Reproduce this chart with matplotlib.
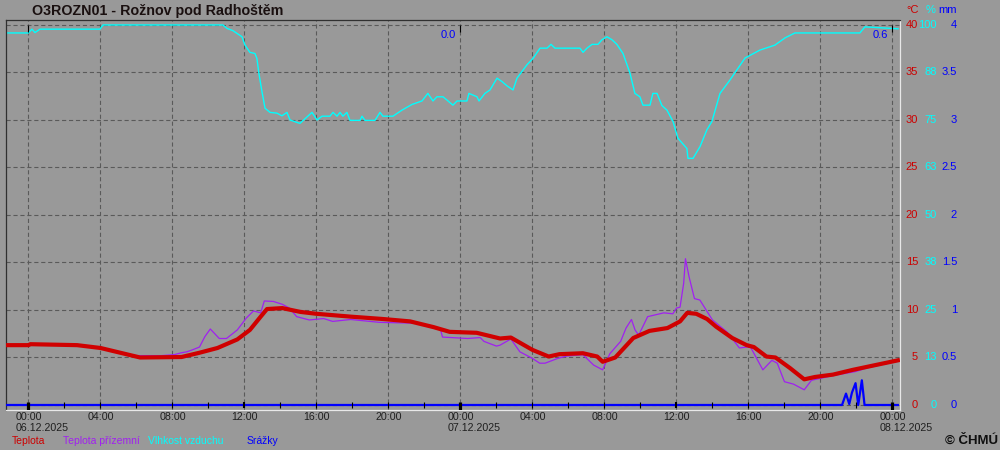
import matplotlib
matplotlib.use("Agg")
import matplotlib.pyplot as plt
import matplotlib.transforms as mtransforms

# hours counted from 06.12.2025 00:00
temp_h = [-1.25, 0.0, 0.1, 2.7, 4.0, 5.1, 6.2, 8.5, 9.5, 10.5, 11.6, 12.3, 12.9, 13.25,
          14.1, 15.1, 16.0, 17.9, 19.7, 21.2, 22.5, 23.4, 24.9, 26.2, 26.8, 28.0, 28.9,
          29.5, 30.8, 31.6, 31.9, 32.6, 33.6, 34.5, 35.5, 36.2, 36.6, 37.1, 37.7, 38.2,
          39.1, 39.9, 40.3, 41.0, 41.5, 42.3, 43.1, 43.7, 44.7, 45.8, 47.3, 48.3]
temp = [6.3, 6.3, 6.4, 6.3, 6.0, 5.5, 5.0, 5.05, 5.5, 6.0, 6.9, 7.9, 9.3, 10.1,
        10.2, 9.8, 9.6, 9.3, 9.05, 8.8, 8.2, 7.7, 7.6, 7.0, 7.1, 5.8, 5.1,
        5.35, 5.45, 5.1, 4.55, 5.0, 7.05, 7.8, 8.1, 8.8, 9.7, 9.6, 9.05, 8.25,
        7.05, 6.3, 6.1, 5.1, 5.0, 3.9, 2.7, 2.95, 3.2, 3.7, 4.3, 4.7]

ground_h = [5.25, 6.0, 7.4, 8.1, 8.5, 8.8, 9.1, 9.5, 9.8, 10.1, 10.6, 11.0, 11.6, 12.1,
            12.5, 12.9, 13.1, 13.6, 14.1, 14.5, 14.9, 15.6, 16.4, 16.9, 17.9, 19.5, 21.6,
            22.9, 23.0, 24.4, 25.1, 25.3, 26.0, 26.2, 26.8, 27.3, 28.0, 28.4, 28.7, 29.4,
            29.9, 30.8, 31.4, 31.9, 32.3, 32.9, 33.2, 33.5, 33.7, 33.9, 34.4, 35.3, 35.8,
            36.0, 36.2, 36.4, 36.5, 36.7, 37.0, 37.3, 38.0, 38.8, 39.5, 40.1, 40.8, 41.3,
            41.6, 42.0, 42.5, 43.1, 43.5, 44.7, 45.9, 46.6, 47.3, 48.3]
ground = [5.4, 5.2, 5.2, 5.3, 5.5, 5.6, 5.8, 6.1, 7.2, 8.0, 7.0, 7.0, 7.9, 9.15,
          9.9, 9.7, 10.95, 10.9, 10.6, 10.2, 9.3, 8.95, 9.1, 8.8, 9.0, 8.7, 8.6,
          7.9, 7.15, 7.0, 7.1, 6.7, 6.2, 6.3, 6.95, 5.6, 4.9, 4.4, 4.4, 4.9,
          5.15, 5.3, 4.2, 3.7, 5.4, 6.7, 8.1, 9.0, 7.9, 7.35, 9.3, 9.7, 9.6,
          10.2, 10.3, 12.8, 15.4, 13.5, 11.2, 11.05, 8.95, 7.7, 6.0, 6.15, 3.7, 4.7,
          4.4, 2.45, 2.2, 1.6, 2.6, 3.1, 3.5, 3.9, 4.2, 4.6]

hum_h = [-1.19, 0.0, 0.19, 0.36, 0.64, 3.97, 4.14, 10.8, 11.03, 11.36, 11.86, 12.03, 12.3,
         12.58, 12.69, 12.8, 12.97, 13.14, 13.42, 13.8, 14.08, 14.36, 14.53, 15.08, 15.75,
         16.03, 16.31, 16.75, 16.92, 17.14, 17.31, 17.47, 17.69, 17.86, 18.42, 18.53, 18.69,
         19.25, 19.53, 19.69, 20.25, 20.75, 21.31, 21.86, 22.19, 22.47, 22.69, 23.03, 23.31,
         23.58, 23.81, 24.36, 24.47, 24.92, 25.03, 25.36, 25.64, 26.03, 26.31, 26.58, 26.92,
         27.14, 27.69, 28.03, 28.42, 28.81, 29.03, 29.25, 30.64, 30.81, 31.03, 31.31, 31.64,
         31.86, 32.14, 32.42, 32.69, 33.03, 33.42, 33.69, 33.97, 34.14, 34.53, 34.69, 34.92,
         35.19, 35.47, 35.81, 36.08, 36.58, 36.64, 36.92, 37.31, 37.69, 37.97, 38.42, 38.97,
         39.81, 40.64, 41.47, 42.03, 42.58, 46.19, 46.47, 48.31]
hum = [97.9, 97.9, 98.9, 98.0, 98.9, 98.9, 100, 100, 99.1, 98.5, 96.9, 94.7, 92.8,
       92.5, 91.2, 87.3, 82.5, 78.1, 77.0, 76.8, 76.1, 77.0, 75.0, 74.1, 77.0,
       75.0, 76.0, 76.0, 77.0, 76.0, 77.0, 76.0, 77.0, 74.9, 74.9, 76.0, 74.9,
       74.9, 77.0, 76.0, 76.0, 77.6, 79.1, 80.0, 82.0, 80.0, 81.1, 81.1, 80.0,
       78.9, 80.0, 80.0, 82.0, 81.1, 80.0, 82.0, 82.9, 86.0, 85.1, 84.0, 82.9,
       86.0, 89.5, 91.2, 93.9, 93.9, 94.9, 93.9, 93.9, 92.8, 93.9, 94.9, 94.9,
       96.1, 96.9, 96.1, 94.9, 92.5, 87.3, 82.0, 81.1, 78.9, 78.9, 82.0, 82.0,
       78.8, 77.6, 74.6, 70.2, 67.5, 64.9, 64.9, 68.0, 72.4, 74.6, 82.0, 85.5,
       91.3, 93.4, 94.7, 96.6, 97.9, 97.9, 99.5, 99.0]

rain_h = [-1.2, 45.2, 45.42, 45.6, 45.75, 45.95, 46.1, 46.3, 46.45, 48.3]
rain = [0, 0, 0.12, 0.01, 0.13, 0.23, 0.0, 0.26, 0.0, 0]

day_sums = ["0.0", "0.6"]
day_ends = [24, 48]

xticks = list(range(0, 49, 4))
xlabels = ["00:00", "04:00", "08:00", "12:00", "16:00", "20:00"] * 2 + ["00:00"]
date_pos = [0, 24, 48]
date_labels = ["06.12.2025", "07.12.2025", "08.12.2025"]

t_ticks = list(range(0, 41, 5))
hum_labels = ["0", "13", "25", "38", "50", "63", "75", "88", "100"]
mm_labels = ["0", "0.5", "1", "1.5", "2", "2.5", "3", "3.5", "4"]

legend_names = ["Teplota", "Teplota přízemní", "Vlhkost vzduchu", "Srážky"]

RED = "#d00000"
PURPLE = "#a020f0"
CYAN = "#00ffff"
BLUE = "#0000ff"
BG = "#999999"

plt.rcParams['font.family'] = ['Liberation Sans', 'DejaVu Sans']
plt.rcParams['lines.scale_dashes'] = False

fig = plt.figure(figsize=(10, 4.5), dpi=100, facecolor=BG)
ax = fig.add_axes([0.006, 0.0889, 0.894, 0.8667])
ax.set_facecolor(BG)

# humidity 0..100 % and rain 0..4 mm share the 0..40 degC scale
ax.plot(hum_h, [h * 0.4 for h in hum], color=CYAN, lw=1.0, zorder=2)
ax.plot(ground_h, ground, color=PURPLE, lw=0.9, zorder=3)
ax.plot(temp_h, temp, color=RED, lw=3.0, zorder=4)
ax.plot(rain_h, [r * 10 for r in rain], color=BLUE, lw=1.6, zorder=5)

# small ticks along the zero line
for h in range(0, 49, 2):
    if h % 24 == 0:
        ax.vlines(h, -0.5, 0.35, color='black', lw=2.3, zorder=6)
    elif h % 12 == 0:
        ax.vlines(h, -0.3, 0.35, color='black', lw=1.5, zorder=6)
    else:
        ax.vlines(h, -0.35, 0.35, color='black', lw=0.8, zorder=6)
# day markers at the top
for h in [0, 24, 48]:
    ax.vlines(h, 39.3, 40, color='black', lw=0.8, zorder=6)

# daily rain sums
for h, s in zip(day_ends, day_sums):
    ax.text(h - 0.25, 38.95, s, color=BLUE, fontsize=8, ha='right', va='center')

ax.set_xlim(-1.25, 48.42)
ax.set_ylim(-0.526, 40.526)
ax.set_xticks(xticks)
ax.set_xticklabels(xlabels, fontsize=7.7, color='#202020')
ax.set_yticks(t_ticks)
ax.set_yticklabels([])
ax.tick_params(axis='both', length=0, pad=1.5)
ax.grid(True, color='#5a5a5a', lw=0.8, linestyle=(0, (3, 2)))
ax.set_axisbelow(True)

# dates start at the left edge of the time label
dtr = mtransforms.blended_transform_factory(ax.transData, fig.transFigure) + \
    mtransforms.ScaledTranslation(-0.128, 0, fig.dpi_scale_trans)
for h, d in zip(date_pos, date_labels):
    ax.text(h, 0.0493, d, transform=dtr, fontsize=7.7, color='#202020',
            ha='left', va='center', clip_on=False)

for side in ['left', 'top']:
    ax.spines[side].set_color('#303030')
    ax.spines[side].set_linewidth(0.9)
for side in ['right', 'bottom']:
    ax.spines[side].set_color('#e8e8e8')
    ax.spines[side].set_linewidth(0.9)

# right hand scales
tr = mtransforms.blended_transform_factory(fig.transFigure, ax.transData)
for t, hl, ml in zip(t_ticks, hum_labels, mm_labels):
    ax.text(0.918, t, str(t), transform=tr, color='#cc0000', fontsize=8, ha='right', va='center', clip_on=False)
    ax.text(0.937, t, hl, transform=tr, color=CYAN, fontsize=8, ha='right', va='center', clip_on=False)
    ax.text(0.957, t, ml, transform=tr, color=BLUE, fontsize=8, ha='right', va='center', clip_on=False)
fig.text(0.919, 0.978, "°C", color='#cc0000', fontsize=8, ha='right', va='center')
fig.text(0.936, 0.978, "%", color=CYAN, fontsize=8, ha='right', va='center')
fig.text(0.957, 0.978, "mm", color=BLUE, fontsize=8, ha='right', va='center')

fig.text(0.032, 0.976, "O3ROZN01 - Rožnov pod Radhoštěm", fontsize=10.3,
         fontweight='bold', color='#1a1010', ha='left', va='center')

# legend line at the bottom
for x, name, c in zip([0.012, 0.063, 0.148, 0.247], legend_names, ['#cc0000', PURPLE, CYAN, BLUE]):
    fig.text(x, 0.02, name, color=c, fontsize=7.5, ha='left', va='center')
fig.text(0.998, 0.02, "© ČHMÚ", fontsize=9.5, fontweight='bold', color='#101010',
         ha='right', va='center')

fig.savefig("out.png", dpi=100, facecolor=BG)
